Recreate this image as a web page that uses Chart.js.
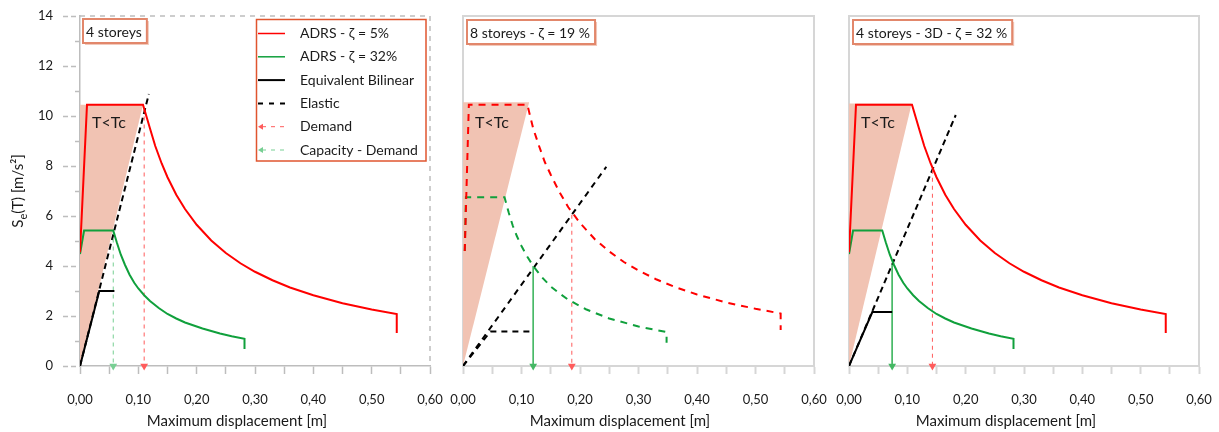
<!DOCTYPE html>
<html>
<head>
<meta charset="utf-8">
<script src="https://cdn.jsdelivr.net/npm/chart.js@4.4.1/dist/chart.umd.min.js"></script>
<style>
  html, body { margin: 0; padding: 0; background: #fff; }
  #wrap { position: relative; width: 1219px; height: 432px; }
  .panel { position: absolute; top: 0; height: 432px; }
</style>
</head>
<body>
<div id="wrap">
  <div class="panel" style="left:0;width:448px"><canvas id="c1"></canvas></div>
  <div class="panel" style="left:448px;width:385px"><canvas id="c2"></canvas></div>
  <div class="panel" style="left:833px;width:386px"><canvas id="c3"></canvas></div>
</div>
<script>
// labels
const xTickLabels = ['0,00', '0,10', '0,20', '0,30', '0,40', '0,50', '0,60'];
const yTickLabels = ['0', '2', '4', '6', '8', '10', '12', '14'];
const panelTitles = ['4 storeys', '8 storeys - \u03B6 = 19 %', '4 storeys - 3D - \u03B6 = 32 %'];
const legendLabels = ['ADRS - \u03B6 = 5%', 'ADRS - \u03B6 = 32%', 'Equivalent Bilinear', 'Elastic', 'Demand', 'Capacity - Demand'];
const xTitle = 'Maximum displacement [m]';

// 4 storeys (spectra also used in the 3D panel)  [displacement m, Se m/s2]
const adrs5 = [[0, 4.55], [0.012, 10.45], [0.108, 10.45], [0.12, 9.5], [0.129, 8.8], [0.14, 8.1], [0.15, 7.55],
    [0.165, 6.85], [0.18, 6.28], [0.2, 5.65], [0.225, 5.02], [0.25, 4.52], [0.275, 4.11], [0.3, 3.77],
    [0.33, 3.43], [0.36, 3.14], [0.4, 2.83], [0.45, 2.51], [0.5, 2.26], [0.543, 2.08], [0.543, 1.32]];
const adrs32 = [[0, 4.48], [0.007, 5.42], [0.057, 5.42], [0.063, 4.95], [0.07, 4.45], [0.077, 4.05], [0.085, 3.65],
    [0.093, 3.33], [0.1, 3.1], [0.11, 2.83], [0.12, 2.6], [0.135, 2.32], [0.15, 2.08], [0.165, 1.9],
    [0.18, 1.74], [0.21, 1.5], [0.24, 1.3], [0.26, 1.19], [0.282, 1.09], [0.282, 0.68]];
const bilin4 = [[0, 0], [0.033, 3.0], [0.059, 3.0]];
const elastic4 = [[0, 0], [0.118, 10.88]];
const demand4 = [[0.11, 10.3], [0.11, 0]];
const capDem4 = [[0.057, 5.42], [0.057, 0]];
const tc4 = [[0, 0], [0.108, 10.45]];

// 8 storeys
const adrs5p2 = [[0.003, 4.6], [0.01, 10.45], [0.11, 10.45], [0.12, 9.5], [0.13, 8.8], [0.14, 8.15], [0.15, 7.65],
    [0.165, 6.95], [0.18, 6.35], [0.2, 5.72], [0.225, 5.08], [0.25, 4.58], [0.275, 4.16], [0.3, 3.82],
    [0.33, 3.47], [0.36, 3.18], [0.4, 2.86], [0.45, 2.54], [0.5, 2.29], [0.543, 2.1], [0.543, 1.44]];
const adrs19 = [[0.003, 4.6], [0.005, 6.75], [0.071, 6.75], [0.078, 6.15], [0.085, 5.62], [0.092, 5.2], [0.1, 4.8],
    [0.11, 4.37], [0.12, 4.0], [0.135, 3.55], [0.15, 3.18], [0.165, 2.9], [0.18, 2.65], [0.21, 2.27],
    [0.25, 1.9], [0.3, 1.58], [0.348, 1.36], [0.348, 0.93]];
const bilin8 = [[0, 0], [0.047, 1.38], [0.12, 1.38]];
const elastic8 = [[0, 0], [0.245, 7.97]];
const demand8 = [[0.186, 6.05], [0.186, 0]];
const capDem8 = [[0.12, 4.0], [0.12, 0]];
const tc8 = [[0, 0], [0.113, 10.55]];

// 4 storeys 3D
const bilin3d = [[0, 0], [0.04, 2.16], [0.074, 2.16]];
const elastic3d = [[0, 0], [0.183, 10.04]];
const demand3d = [[0.143, 7.85], [0.143, 0]];
const capDem3d = [[0.074, 4.05], [0.074, 0]];
const tc3d = [[0, 0], [0.1075, 10.5]];

const FONT = 'Lato, "Open Sans", "DejaVu Sans", sans-serif';
const RED = '#ff0000';
const GREEN = '#10a03c';
const DEMAND = '#ff5c5c';
const CAPDEM = '#44b864';
const CAPDEM_LIGHT = '#77cf93';
const PINK = '#f1c3b3';
const TEXT = '#1a1a1a';

const pts = (a) => a.map(p => ({ x: p[0], y: p[1] }));

function line(a, color, width, dash, order) {
    return { data: pts(a), borderColor: color, borderWidth: width, borderDash: dash || [],
        pointRadius: 0, pointHoverRadius: 0, fill: false, tension: 0, order: order };
}

function arrow(a, color, dash, order) {
    return { data: pts(a), borderColor: color, borderWidth: 1, borderDash: dash || [],
        pointRadius: [0, 4.5], pointHoverRadius: 0, pointStyle: 'triangle', pointRotation: 180,
        pointBackgroundColor: color, pointBorderColor: color, pointBorderWidth: 0,
        fill: false, tension: 0, clip: false, order: order };
}

function tcZone(a) {
    return { data: pts(a), borderWidth: 0, borderColor: 'rgba(0,0,0,0)', backgroundColor: PINK,
        pointRadius: 0, pointHoverRadius: 0, fill: { value: a[a.length - 1][1] }, order: 20 };
}

function titleBox(ctx, x, y, text) {
    ctx.save();
    ctx.font = '14px ' + FONT;
    const w = ctx.measureText(text).width + 8;
    const h = 24;
    ctx.fillStyle = '#f2c9bb';
    ctx.fillRect(x + 2, y + 2, w, h);
    ctx.fillStyle = '#fff';
    ctx.fillRect(x, y, w, h);
    ctx.strokeStyle = '#e2876b';
    ctx.lineWidth = 2;
    ctx.strokeRect(x, y, w, h);
    ctx.fillStyle = TEXT;
    ctx.textBaseline = 'middle';
    ctx.fillText(text, x + 3, y + h / 2 + 1);
    ctx.restore();
}

function drawLegend(ctx) {
    const bx = 256.5, by = 19.5, bw = 169.5, bh = 141.5;
    ctx.save();
    ctx.fillStyle = '#fff';
    ctx.fillRect(bx, by, bw, bh);
    ctx.strokeStyle = '#e0552f';
    ctx.lineWidth = 1.5;
    ctx.strokeRect(bx, by, bw, bh);
    const styles = [
        { c: RED, w: 1.5, d: [] },
        { c: GREEN, w: 1.5, d: [] },
        { c: '#000', w: 2, d: [] },
        { c: '#000', w: 2, d: [5, 6] },
        { c: DEMAND, w: 1, d: [4, 5], arrow: true },
        { c: CAPDEM_LIGHT, w: 1, d: [4, 5], arrow: true }
    ];
    ctx.font = '14px ' + FONT;
    ctx.textBaseline = 'middle';
    legendLabels.forEach((label, i) => {
        const y = 33.5 + i * 23.3;
        const s = styles[i];
        ctx.strokeStyle = s.c;
        ctx.lineWidth = s.w;
        ctx.setLineDash(s.d);
        ctx.beginPath();
        ctx.moveTo(s.arrow ? 262 : 258, y);
        ctx.lineTo(285, y);
        ctx.stroke();
        ctx.setLineDash([]);
        if (s.arrow) {
            ctx.fillStyle = s.c;
            ctx.beginPath();
            ctx.moveTo(258, y);
            ctx.lineTo(263, y - 3);
            ctx.lineTo(263, y + 3);
            ctx.closePath();
            ctx.fill();
        }
        ctx.fillStyle = TEXT;
        ctx.fillText(label, 300, y);
    });
    ctx.restore();
}

function drawYTitle(ctx, area) {
    ctx.save();
    ctx.translate(18, (area.top + area.bottom) / 2);
    ctx.rotate(-Math.PI / 2);
    ctx.fillStyle = TEXT;
    ctx.textBaseline = 'middle';
    ctx.font = '15px ' + FONT;
    const wS = ctx.measureText('S').width;
    const rest = '(T) [m/s\u00B2]';
    const wR = ctx.measureText(rest).width;
    ctx.font = '11px ' + FONT;
    const wE = ctx.measureText('e').width;
    let x = -(wS + wE + wR) / 2;
    ctx.font = '15px ' + FONT;
    ctx.fillText('S', x, 0);
    x += wS;
    ctx.font = '11px ' + FONT;
    ctx.fillText('e', x, 5);
    x += wE;
    ctx.font = '15px ' + FONT;
    ctx.fillText(rest, x, 0);
    ctx.restore();
}

function decor(cfg) {
    return {
        id: 'decor' + cfg.n,
        beforeDatasetsDraw(chart) {
            const { ctx, chartArea: a } = chart;
            ctx.save();
            ctx.strokeStyle = cfg.dashed ? '#bdbdbd' : '#d6d6d6';
            ctx.lineWidth = cfg.dashed ? 1.5 : 2;
            ctx.setLineDash(cfg.dashed ? [5, 5] : []);
            ctx.beginPath();
            ctx.moveTo(a.left, a.top);
            ctx.lineTo(a.right, a.top);
            ctx.lineTo(a.right, a.bottom);
            ctx.stroke();
            if (cfg.dashed) {
                // minor ticks on the y axis
                const ys = chart.scales.y;
                ctx.setLineDash([]);
                for (let v = 1; v < 14; v += 2) {
                    const py = Math.round(ys.getPixelForValue(v)) + 0.5;
                    ctx.beginPath();
                    ctx.moveTo(a.left - 5, py);
                    ctx.lineTo(a.left, py);
                    ctx.stroke();
                }
            }
            ctx.restore();
        },
        afterDatasetsDraw(chart) {
            const { ctx, chartArea: a } = chart;
            ctx.save();
            ctx.fillStyle = TEXT;
            ctx.font = '16px ' + FONT;
            ctx.textBaseline = 'middle';
            ctx.fillText('T<Tc', a.left + 12, 123);
            ctx.font = '15px ' + FONT;
            ctx.textAlign = 'center';
            ctx.fillText(xTitle, a.left + 157, 421);
            ctx.restore();
            titleBox(ctx, a.left + cfg.boxDx, cfg.boxY, cfg.title);
            if (cfg.legend) {
                drawLegend(ctx);
                drawYTitle(ctx, a);
            }
        }
    };
}

function makePanel(id, cfg, datasets) {
    const axisColor = cfg.dashed ? '#bdbdbd' : '#d6d6d6';
    const dash = cfg.dashed ? [5, 5] : [];
    return new Chart(document.getElementById(id), {
        type: 'line',
        data: { datasets: datasets },
        options: {
            responsive: true,
            maintainAspectRatio: false,
            animation: false,
            events: [],
            layout: { padding: { left: 0, top: 16, right: cfg.padRight, bottom: 0 } },
            plugins: { legend: { display: false }, tooltip: { enabled: false } },
            scales: {
                x: {
                    type: 'linear', min: 0, max: 0.6,
                    ticks: {
                        stepSize: 0.05, autoSkip: false, maxRotation: 0, padding: 18,
                        color: TEXT, font: { family: FONT, size: 13 },
                        callback: (v) => {
                            const i = Math.round(v * 10);
                            return Math.abs(v * 10 - i) < 1e-6 ? xTickLabels[i] : '';
                        }
                    },
                    grid: { drawOnChartArea: false, drawTicks: true, tickLength: 8, tickColor: axisColor, tickWidth: cfg.dashed ? 1.5 : 2 },
                    border: { color: axisColor, dash: dash, width: cfg.dashed ? 1.5 : 2 },
                    afterFit: (s) => { s.height = 66; s.paddingLeft = 0; s.paddingRight = 0; }
                },
                y: {
                    type: 'linear', min: 0, max: 14,
                    ticks: {
                        display: cfg.yLabels, stepSize: 1, padding: 10,
                        color: TEXT, font: { family: FONT, size: 13 },
                        callback: (v) => (v % 2 === 0 ? yTickLabels[v / 2] : '')
                    },
                    grid: {
                        display: cfg.yLabels, drawOnChartArea: false, drawTicks: true, tickLength: 17,
                        tickColor: (c) => (c.tick && c.tick.value % 2 === 0 ? axisColor : 'rgba(0,0,0,0)'),
                        tickBorderDash: [5, 3], tickWidth: 1.5
                    },
                    border: { color: axisColor, dash: dash, width: cfg.dashed ? 1.5 : 2 },
                    afterFit: (s) => { s.width = cfg.yWidth; s.paddingTop = 0; s.paddingBottom = 0; }
                }
            }
        },
        plugins: [decor(cfg)]
    });
}

makePanel('c1', { n: 1, dashed: true, yLabels: true, yWidth: 80, padRight: 18, boxDx: 3, boxY: 19, title: panelTitles[0], legend: true }, [
    tcZone(tc4),
    line(elastic4, '#000', 2, [6, 4], 6),
    line(bilin4, '#000', 2, [], 3),
    line(adrs32, GREEN, 2, [], 2),
    line(adrs5, RED, 2, [], 1),
    arrow(demand4, DEMAND, [4, 4], 5),
    arrow(capDem4, CAPDEM_LIGHT, [4, 4], 4)
]);

makePanel('c2', { n: 2, dashed: false, yLabels: false, yWidth: 15, padRight: 19, boxDx: 4, boxY: 20, title: panelTitles[1], legend: false }, [
    tcZone(tc8),
    line(elastic8, '#000', 2, [6, 5], 6),
    line(bilin8, '#000', 2, [6, 5], 3),
    line(adrs19, GREEN, 2, [7, 6], 2),
    line(adrs5p2, RED, 2, [7, 6], 1),
    arrow(demand8, DEMAND, [4, 4], 5),
    arrow(capDem8, CAPDEM, [], 4)
]);

makePanel('c3', { n: 3, dashed: false, yLabels: false, yWidth: 16, padRight: 20, boxDx: 4, boxY: 20, title: panelTitles[2], legend: false }, [
    tcZone(tc3d),
    line(elastic3d, '#000', 2, [6, 4], 6),
    line(bilin3d, '#000', 2, [], 3),
    line(adrs32, GREEN, 2, [], 2),
    line(adrs5, RED, 2, [], 1),
    arrow(demand3d, DEMAND, [4, 4], 5),
    arrow(capDem3d, CAPDEM, [], 4)
]);
</script>
</body>
</html>
